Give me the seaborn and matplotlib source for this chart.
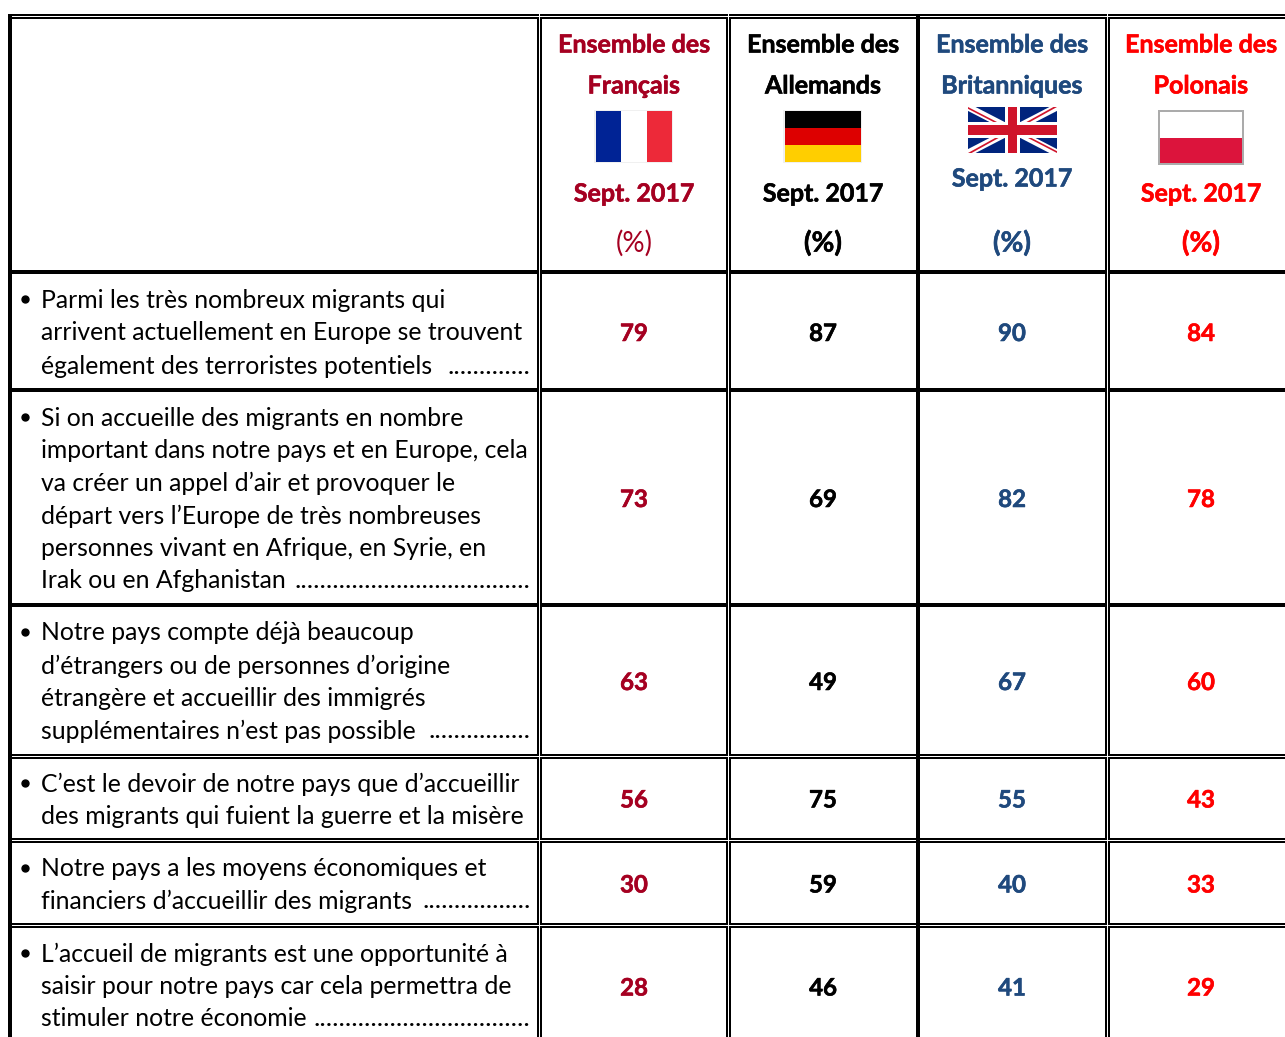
## Table: perception of migrants in four European countries, Sept. 2017

## Imports
import numpy as np
import pandas as pd
import seaborn as sns
import matplotlib.pyplot as plt
import matplotlib.patheffects as pe
from matplotlib.colors import ListedColormap
from matplotlib.patches import Polygon, Rectangle

## Data
countries = ['Français', 'Allemands', 'Britanniques', 'Polonais']
country_colors = ['#A50021', '#000000', '#1F497D', '#FF0000']
period = 'Sept. 2017'

statements = [
    ['Parmi les très nombreux migrants qui',
     'arrivent actuellement en Europe se trouvent',
     'également des terroristes potentiels'],
    ['Si on accueille des migrants en nombre',
     'important dans notre pays et en Europe, cela',
     'va créer un appel d’air et provoquer le',
     'départ vers l’Europe de très nombreuses',
     'personnes vivant en Afrique, en Syrie, en',
     'Irak ou en Afghanistan'],
    ['Notre pays compte déjà beaucoup',
     'd’étrangers ou de personnes d’origine',
     'étrangère et accueillir des immigrés',
     'supplémentaires n’est pas possible'],
    ['C’est le devoir de notre pays que d’accueillir',
     'des migrants qui fuient la guerre et la misère'],
    ['Notre pays a les moyens économiques et',
     'financiers d’accueillir des migrants'],
    ['L’accueil de migrants est une opportunité à',
     'saisir pour notre pays car cela permettra de',
     'stimuler notre économie'],
]
leader_dots = [13, 37, 16, 0, 17, 34]

fr_values = [79, 73, 63, 56, 30, 28]
de_values = [87, 69, 49, 75, 59, 46]
uk_values = [90, 82, 67, 55, 40, 41]
pl_values = [84, 78, 60, 43, 33, 29]

## Layout, in pixels of the 1285x1037 image
W, H = 1285, 1037
col_edges = [539.5, 728.5, 917.5, 1106.5, 1295.5]
row_tops = [276, 394, 609, 759, 844, 929]
row_bottoms = [391, 605, 756, 841, 926, 1047]
line_ys = [[300, 333, 366], [418, 451, 483, 516, 548, 581], [633, 666, 698, 731],
           [784, 816], [869, 901], [954, 987, 1019]]
FONT = 'Lato'
TXT = 17.8
HEAD = 18
NUM = 17.3


def thick(color, width=0.4):
    return [pe.withStroke(linewidth=width, foreground=color)]


sns.set_theme(style='white')
plt.rcParams['font.family'] = [FONT, 'DejaVu Sans']

fig = plt.figure(figsize=(W / 100, H / 100), dpi=100, facecolor='white')


def px_axes(left, top, right, bottom):
    return fig.add_axes([left / W, 1 - bottom / H, (right - left) / W, (bottom - top) / H])


def flag(left, top, right, bottom, codes, colors):
    ## Flags with plain stripes are small heatmaps
    ax = px_axes(left, top, right, bottom)
    sns.heatmap(np.array(codes), cmap=ListedColormap(colors), vmin=0, vmax=max(len(colors) - 1, 1),
                cbar=False, xticklabels=False, yticklabels=False, ax=ax)
    return ax


## Number cells, one heatmap per row since rows have different heights
table = pd.DataFrame({'fr': fr_values, 'de': de_values, 'uk': uk_values, 'pl': pl_values})
for i, row in table.iterrows():
    ax = px_axes(col_edges[0], row_tops[i], col_edges[-1], row_bottoms[i])
    sns.heatmap(row.to_frame().T, annot=True, fmt='d', cmap=ListedColormap(['white']),
                cbar=False, xticklabels=False, yticklabels=False,
                annot_kws={'fontsize': NUM, 'fontweight': 'bold'}, ax=ax)
    for t, c in zip(ax.texts, country_colors):
        t.set_color(c)
        t.set_path_effects(thick(c))

## Flags
flag(594, 110, 673, 163, [[0]], ['#F0F0F0'])
flag(596, 111, 672, 162, [[0, 1, 2]], ['#002395', '#FFFFFF', '#ED2939'])
flag(783, 110, 862, 163, [[0]], ['#F0F0F0'])
flag(785, 111, 861, 162, [[0], [1], [2]], ['#000000', '#DD0000', '#FFCE00'])
flag(1158, 110, 1244, 165, [[0]], ['#ABABAB'])
flag(1160, 112, 1242, 163, [[0], [1]], ['#FFFFFF', '#DC143C'])

## Union Jack
uk = px_axes(968, 107, 1057, 153)
uk.set_xlim(0, 60)
uk.set_ylim(30, 0)
uk.axis('off')
uk.add_patch(Rectangle((0, 0), 60, 30, color='#00247D', lw=0))
for xs, ys in [((0, 60), (0, 30)), ((0, 60), (30, 0))]:
    uk.plot(xs, ys, color='white', lw=5.0, solid_capstyle='butt')
for pts in [[(0, 0), (0, 1.2), (24, 13.2), (26.4, 13.2)], [(60, 30), (60, 28.8), (36, 16.8), (33.6, 16.8)],
            [(0, 30), (2.4, 30), (27, 16.8), (24.6, 16.8)], [(60, 0), (57.6, 0), (33, 13.2), (35.4, 13.2)]]:
    uk.add_patch(Polygon(pts, color='#CF142B', lw=0, zorder=3))
uk.add_patch(Rectangle((25, 0), 10, 30, color='white', lw=0, zorder=4))
uk.add_patch(Rectangle((0, 9.8), 60, 10.4, color='white', lw=0, zorder=4))
uk.add_patch(Rectangle((27.2, 0), 5.6, 30, color='#CF142B', lw=0, zorder=5))
uk.add_patch(Rectangle((0, 12), 60, 6, color='#CF142B', lw=0, zorder=5))

## Overlay for the rules and all the other text
ov = fig.add_axes([0, 0, 1, 1], zorder=10)
ov.patch.set_alpha(0)
ov.set_xlim(0, W)
ov.set_ylim(H, 0)
ov.axis('off')


def bar(x0, y0, x1, y1, color='black'):
    ## Rules are filled pixel boxes so they stay crisp
    ov.add_patch(Rectangle((x0, y0), x1 - x0, y1 - y0, facecolor=color, edgecolor='none', lw=0))


## Rules: thick ones under the header and first rows, double ones elsewhere
for y0 in [270, 388, 603]:
    bar(8, y0, W, y0 + 4)
for y0 in [14, 754, 838, 923]:
    bar(8, y0, W, y0 + 2)
    bar(8, y0 + 3, W, y0 + 5)
for x0 in [537, 726, 1105]:
    bar(x0, 14, x0 + 2, H)
    bar(x0 + 3, 14, x0 + 5, H)

## White gaps of the double rules run through the crossings
for x0 in [539, 728, 1107]:
    bar(x0, 14, x0 + 1, H, color='white')
for y0 in [16, 756, 840, 925]:
    bar(8, y0, W, y0 + 1, color='white')

bar(8, 14, 12, H)
bar(916, 14, 920, H)

## Header
head_x = [634, 823, 1012, 1201]
for i, (name, x, c) in enumerate(zip(countries, head_x, country_colors)):
    for y, s in [(45, 'Ensemble des'), (86, name), (179 if i == 2 else 194, period)]:
        ov.text(x, y, s, color=c, fontsize=HEAD, fontweight='bold', ha='center', va='center',
                path_effects=thick(c))
    if i == 0:
        ov.text(x, 243, '(%)', color=c, fontsize=20, ha='center', va='center')
    else:
        ov.text(x, 243, '(%)', color=c, fontsize=20, fontweight='bold', ha='center', va='center',
                path_effects=thick(c))

## Statements
for lines, ys, n_dots in zip(statements, line_ys, leader_dots):
    ov.plot([24.5], [ys[0] - 1], 'o', color='black', ms=5)
    for line, y in zip(lines, ys):
        ov.text(41, y, line, color='black', fontsize=TXT, ha='left', va='center')
    if n_dots:
        ov.text(530.5, ys[-1], '.' * n_dots, color='black', fontsize=19.5, ha='right', va='center')

plt.savefig('out.png', dpi=100)
